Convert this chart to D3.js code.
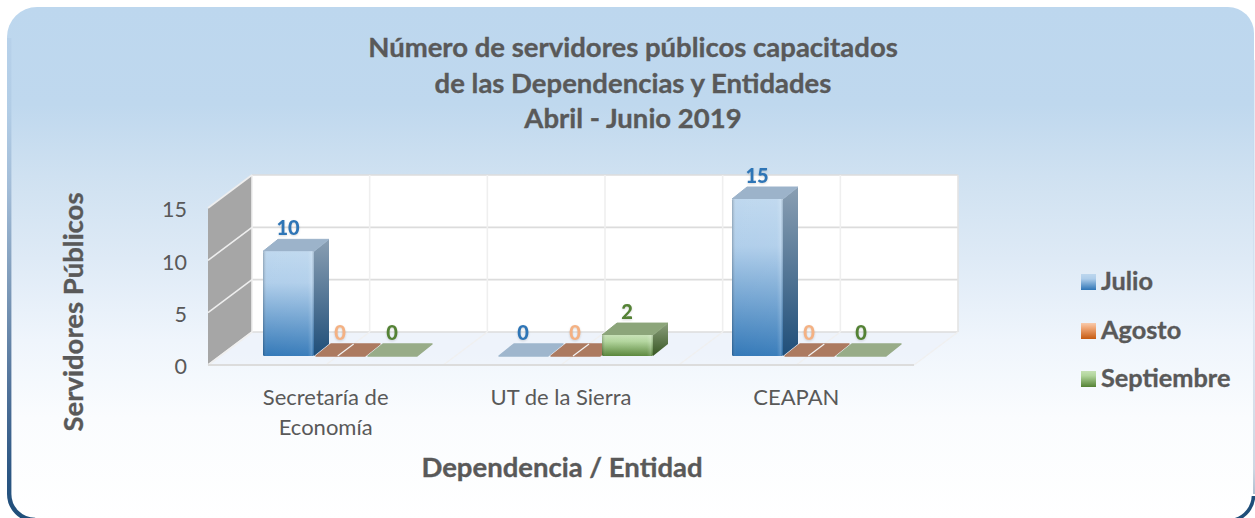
<!DOCTYPE html>
<html><head><meta charset="utf-8">
<script src="https://cdn.jsdelivr.net/npm/d3@7"></script>
<style>
html,body{margin:0;padding:0;background:#fff}
svg{display:block}
text{font-family:Lato,sans-serif}
.heavy{stroke:#595959;stroke-width:.35px}
</style></head><body>
<svg id="c" width="1255" height="518"></svg>
<script>
const titleLines=["Número de servidores públicos capacitados","de las Dependencias y Entidades","Abril - Junio 2019"];
const categories=["Secretaría de Economía","UT de la Sierra","CEAPAN"];
const seriesNames=["Julio","Agosto","Septiembre"];
const julio=[10,0,15];
const agosto=[0,0,0];
const septiembre=[0,2,0];
const yTicks=[0,5,10,15];
const seriesValues=[julio,agosto,septiembre];

const svg=d3.select("#c");
const defs=svg.append("defs");
function lin(id,stops,x2,y2){
  const g=defs.append("linearGradient").attr("id",id).attr("x1",0).attr("y1",0).attr("x2",x2||0).attr("y2",y2===undefined?1:y2);
  stops.forEach(s=>g.append("stop").attr("offset",s[0]).attr("stop-color",s[1]).attr("stop-opacity",s[2]===undefined?1:s[2]));
  return g;
}
function linY(id,stops){
  return lin(id,stops).attr("gradientUnits","userSpaceOnUse").attr("x1",0).attr("x2",0).attr("y1",7).attr("y2",520);
}
linY("bg",[[0,"#bdd7ee"],[0.19,"#bfd8ee"],[0.33,"#cfe1f1"],[0.49,"#deeaf6"],[0.65,"#eff5fc"],[0.8,"#fafcfe"],[1,"#ffffff"]]);
linY("edge",[[0,"#b9d3ec"],[0.2,"#b2cde6"],[0.35,"#a3bdd8"],[0.55,"#7c99b8"],[0.75,"#4f7199"],[0.92,"#2a5582"],[1,"#1f4e79"]]);
linY("edgeR",[[0,"#bdd7ee"],[0.6,"#cbd9ea"],[0.9,"#9fb0c8"],[1,"#1f4e79"]]);
const palette=[
 {front:["#bdd7ee","#aecdea","#2e75b6"],side:["#8a9fb3","#1f4e79"],top:"#9cb3ca",text:"#2e75b6",flat:"#9fb6cd"},
 {front:["#f8cbad","#f0a878","#c55a11"],side:["#a5765a","#843c0c"],top:"#b07c62",text:"#f4b183",flat:"#ac7a60"},
 {front:["#c5e0b4","#b0d49a","#548235"],side:["#8a9e7c","#385723"],top:"#8ca57a",text:"#548235",flat:"#98ac88"}
];
palette.forEach((p,i)=>{
  lin("f"+i,[[0,p.front[0]],[0.3,p.front[1]],[1,p.front[2]]]);
  lin("s"+i,[[0,p.side[0]],[1,p.side[1]]]);
});
lin("sheen",[[0,"#000",0.22],[0.08,"#fff",0.03],[0.88,"#fff",0.06],[0.96,"#fff",0.22],[1,"#000",0.12]],1,0);

// panel
svg.append("path").attr("fill","url(#bg)")
 .attr("d","M37,7H1228a26,26 0 0 1 26,26V494a26,26 0 0 1 -26,26H33a26,26 0 0 1 -26,-26V37a30,30 0 0 1 30,-30Z");
svg.append("path").attr("fill","none").attr("stroke","url(#edge)").attr("stroke-width",4.4)
 .attr("d","M9.2,38V494a26,26 0 0 0 26,26");
svg.append("path").attr("fill","none").attr("stroke","url(#edgeR)").attr("stroke-width",1)
 .attr("d","M1254,60V494");
svg.append("path").attr("fill","none").attr("stroke","#1f4e79").attr("stroke-width",3.6)
 .attr("d","M1253.5,496a26,26 0 0 1 -19,24");

// title
svg.append("g").selectAll("text").data(titleLines).join("text").attr("class","heavy")
 .attr("x",633).attr("y",(d,i)=>[57,93,128][i]).attr("text-anchor","middle")
 .attr("font-size",27.5).attr("font-weight",700).attr("fill","#595959").text(d=>d);

// 3D frame
const wall={x0:252,x1:958,y0:332,y1:175};
const depth={dx:-44,dy:33};
const y=d3.scaleLinear().domain([0,15]).range([wall.y0,wall.y1]);
const cat=d3.scaleBand().domain(categories).range([wall.x0+depth.dx,wall.x1+depth.dx-2.5]);
const catAxis=d3.scaleBand().domain(categories).range([wall.x0+depth.dx,wall.x1+depth.dx]);
const ser=d3.scaleBand().domain(seriesNames).range([0,52*3]);
const gridX=d3.range(0,7).map(i=>wall.x0+(wall.x1-wall.x0)*i/6);

const frame=svg.append("g");
frame.append("path").attr("fill","#eef3fa").attr("fill-opacity",.8)
 .attr("d",`M${wall.x0},${wall.y0}H${wall.x1}L${wall.x1+depth.dx},${wall.y0+depth.dy}H${wall.x0+depth.dx}Z`);
frame.append("rect").attr("x",wall.x0).attr("y",wall.y1).attr("width",wall.x1-wall.x0).attr("height",wall.y0-wall.y1).attr("fill","#fff");
frame.append("path").attr("fill","#a6a6a6")
 .attr("d",`M${wall.x0},${wall.y1}V${wall.y0}L${wall.x0+depth.dx},${wall.y0+depth.dy}V${wall.y1+depth.dy}Z`);
yTicks.forEach(t=>{
  const yy=y(t);
  frame.append("path").attr("fill","none").attr("stroke","#dcdcdc").attr("stroke-width",1.6)
   .attr("d",`M${wall.x0},${yy}H${wall.x1}`);
  frame.append("path").attr("fill","none").attr("stroke","#eeeeee").attr("stroke-width",1.6)
   .attr("d",`M${wall.x0},${yy}L${wall.x0+depth.dx},${yy+depth.dy}`);
});
gridX.forEach(gx=>{
  frame.append("path").attr("fill","none").attr("stroke",gx===wall.x1?"#e4e4e4":"#efefef").attr("stroke-width",1.6)
   .attr("d",`M${gx},${wall.y1}V${wall.y0}`);
  frame.append("path").attr("fill","none").attr("stroke","#f0f0f0").attr("stroke-width",1.4)
   .attr("d",`M${gx},${wall.y0}L${gx+depth.dx},${wall.y0+depth.dy}`);
});
frame.append("path").attr("fill","none").attr("stroke","#dcdcdc").attr("stroke-width",1.8)
 .attr("d",`M${wall.x0+depth.dx},${wall.y0+depth.dy}H${wall.x1+depth.dx}`);

// bars
const barOff={x:55,base:-9};
const bd={dx:15,dy:-12};
const marks=svg.append("g");
const rows=[];
categories.forEach((c,ci)=>seriesNames.forEach((s,si)=>rows.push({c,ci,s,si,v:seriesValues[si][ci]})));
const bx=d=>Math.round(cat(d.c)+barOff.x+ser(d.s));
const byBase=wall.y0+depth.dy+barOff.base;
const hOf=v=>y(0)-y(v);
rows.forEach(d=>{
  const x0=bx(d),w=ser.bandwidth()-1,h=hOf(d.v),p=palette[d.si];
  const g=marks.append("g");
  const top=byBase-h;
  if(d.v===0){
    g.append("path").attr("fill",p.flat).attr("stroke",p.flat).attr("stroke-width",1.5).attr("stroke-linejoin","round")
     .attr("d",`M${x0+1},${byBase}L${x0+bd.dx+1},${byBase+bd.dy}H${x0+w+bd.dx-1}L${x0+w-1},${byBase}Z`);
  } else {
    g.append("path").attr("fill",`url(#s${d.si})`)
     .attr("d",`M${x0+w},${top}L${x0+w+bd.dx},${top+bd.dy}V${byBase+bd.dy}L${x0+w},${byBase}Z`);
    g.append("path").attr("fill",p.top).attr("stroke",p.top).attr("stroke-width",1).attr("stroke-linejoin","round")
     .attr("d",`M${x0},${top}L${x0+bd.dx},${top+bd.dy}H${x0+w+bd.dx}L${x0+w},${top}Z`);
    g.append("rect").attr("x",x0).attr("y",top).attr("width",w).attr("height",h).attr("rx",1.5).attr("fill",`url(#f${d.si})`);
    g.append("rect").attr("x",x0).attr("y",top).attr("width",w).attr("height",h).attr("rx",1.5).attr("fill","url(#sheen)");
  }
});
// floor gridlines crossing the flat orange marks
gridX.forEach(gx=>{
  if(gx===wall.x0||gx===wall.x1)return;
  const xa=gx-44*(byBase+bd.dy-wall.y0)/33, xb=gx-44*(byBase-wall.y0)/33;
  if(rows.some(d=>d.v===0&&d.si===1&&xb>bx(d)&&xb<bx(d)+52))
    marks.append("path").attr("stroke","#f4f4f4").attr("stroke-width",1.2).attr("fill","none")
     .attr("d",`M${xa},${byBase+bd.dy}L${xb},${byBase}`);
});
// value labels
svg.append("g").style("filter","drop-shadow(0 1px 1px rgba(0,0,0,.15))").selectAll("text").data(rows).join("text")
 .attr("x",d=>bx(d)+25).attr("y",d=>byBase-hOf(d.v)+bd.dy-4)
 .attr("text-anchor","middle").attr("font-size",20).attr("font-weight",900)
 .attr("fill",d=>palette[d.si].text).text(d=>d.v);

// y axis
const yAxisScale=y.copy().range([wall.y0+depth.dy,wall.y1+depth.dy]);
const yAxis=svg.append("g").attr("transform",`translate(${wall.x0+depth.dx},2)`)
 .call(d3.axisLeft(yAxisScale).tickValues(yTicks).tickSize(0).tickPadding(21));
yAxis.select(".domain").remove();
yAxis.selectAll("text").attr("font-size",21.5).attr("fill","#595959").attr("font-family","Lato,sans-serif");

// x axis
const xAxis=svg.append("g").attr("transform",`translate(0,${wall.y0+depth.dy})`)
 .call(d3.axisBottom(catAxis).tickSize(0).tickPadding(0));
xAxis.select(".domain").remove();
xAxis.selectAll("text").attr("font-size",22).attr("fill","#595959").attr("font-family","Lato,sans-serif").attr("dy",0)
 .each(function(d){
   const t=d3.select(this);t.text(null);
   const parts=d==="Secretaría de Economía"?["Secretaría de","Economía"]:[d];
   parts.forEach((p,i)=>t.append("tspan").attr("x",0).attr("y",40+i*30).text(p));
 });

// axis titles
svg.append("text").attr("class","heavy").attr("x",562).attr("y",477).attr("text-anchor","middle").attr("font-size",27.5).attr("font-weight",700).attr("fill","#595959").text("Dependencia / Entidad");
svg.append("text").attr("class","heavy").attr("transform","translate(83,312) rotate(-90)").attr("text-anchor","middle").attr("font-size",27.5).attr("font-weight",700).attr("fill","#595959").text("Servidores Públicos");

// legend
const lg=svg.append("g");
seriesNames.forEach((s,i)=>{
  const yy=[282,331,379][i];
  lg.append("rect").attr("x",1081).attr("y",yy-8).attr("width",15).attr("height",16).attr("fill",`url(#f${i})`);
  lg.append("text").attr("class","heavy").attr("x",1101).attr("y",yy+8).attr("font-size",25.3).attr("font-weight",700).attr("fill","#595959").text(s);
});
</script></body></html>
